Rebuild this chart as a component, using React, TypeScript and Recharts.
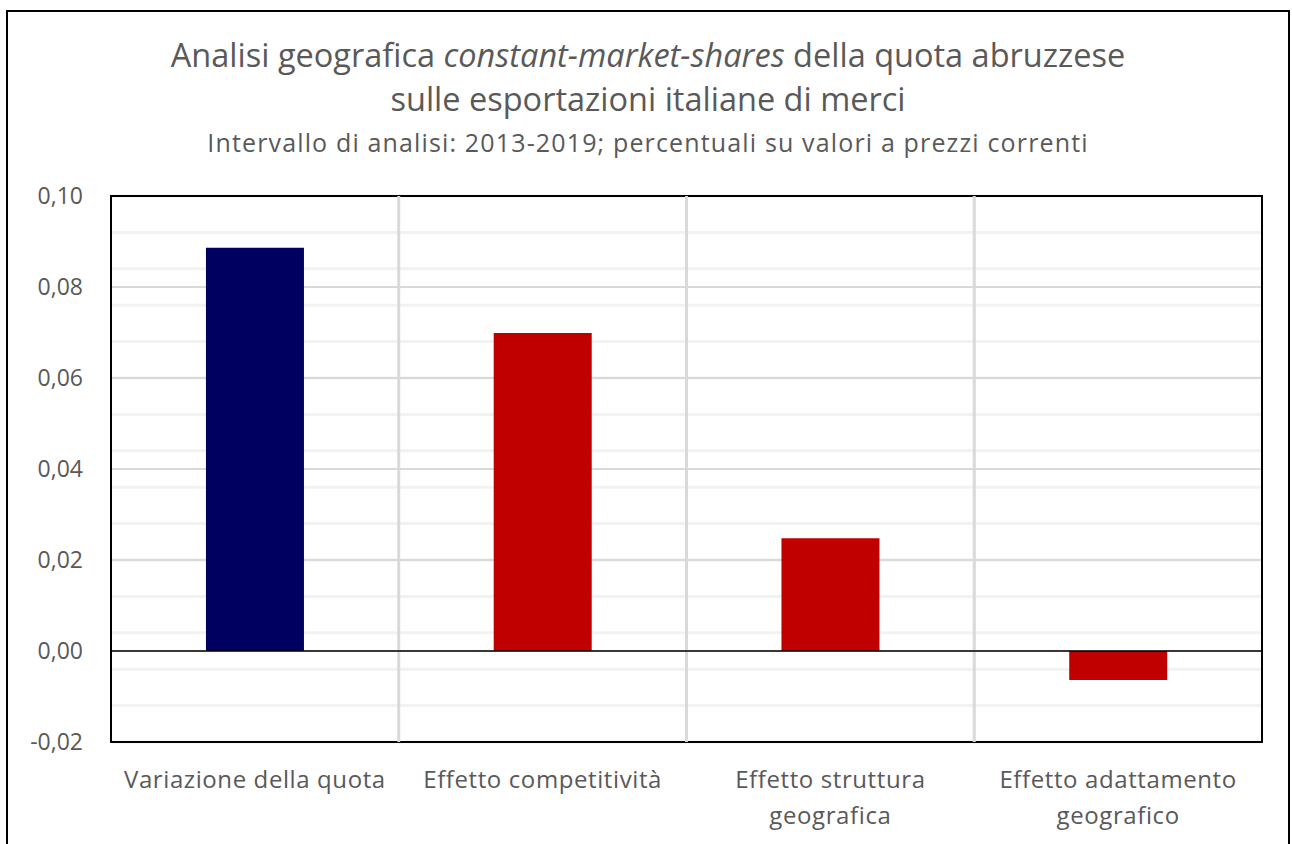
import React from 'react';
import {
  BarChart,
  Bar,
  Cell,
  XAxis,
  YAxis,
  CartesianGrid,
  ReferenceLine,
  ReferenceArea,
} from 'recharts';

// Categories and values
const categories = [
  'Variazione della quota',
  'Effetto competitività',
  'Effetto struttura geografica',
  'Effetto adattamento geografico',
];
const values = [0.0886, 0.0699, 0.0248, -0.0064];
const barColors = ['#000060', '#C00000', '#C00000', '#C00000'];

const yTicks = [-0.02, 0, 0.02, 0.04, 0.06, 0.08, 0.1];
const minorTicks = Array.from({ length: 31 }, (_, i) => -0.02 + i * 0.004);

const data = categories.map((name, i) => ({ name, value: values[i] }));

const FONT = '"Open Sans", "Noto Sans", sans-serif';
const TEXT = '#595959';

function CategoryTick(props: any) {
  const { x, y, payload } = props;
  const label: string = payload.value;
  let lines = [label];
  if (label.length > 24) {
    const cut = label.lastIndexOf(' ');
    lines = [label.slice(0, cut), label.slice(cut + 1)];
  }
  return (
    <text
      x={x}
      y={y}
      textAnchor="middle"
      fill={TEXT}
      fontSize={24}
      letterSpacing={0.6}
      fontFamily={FONT}
    >
      {lines.map((l, i) => (
        <tspan key={i} x={x} dy={i === 0 ? 38 : 36}>
          {l}
        </tspan>
      ))}
    </text>
  );
}

export default function App() {
  return (
    <div
      style={{
        position: 'absolute',
        left: 0,
        top: 0,
        width: 1292,
        height: 844,
        background: '#fff',
        overflow: 'hidden',
        fontFamily: FONT,
      }}
    >
      <div
        style={{
          position: 'absolute',
          left: 6,
          top: 10,
          width: 1280,
          height: 850,
          border: '2px solid #000',
        }}
      />
      <svg
        width={1292}
        height={180}
        style={{ position: 'absolute', left: 0, top: 0 }}
        fontFamily={FONT}
      >
        <text x={648} y={67} textAnchor="middle" fontSize={32.5} fill={TEXT}>
          Analisi geografica <tspan fontStyle="italic">constant-market-shares</tspan> della
          quota abruzzese
        </text>
        <text x={648} y={111} textAnchor="middle" fontSize={32.5} fill={TEXT}>
          sulle esportazioni italiane di merci
        </text>
        <text
          x={648}
          y={152}
          textAnchor="middle"
          fontSize={25}
          letterSpacing={1.15}
          fill={TEXT}
        >
          Intervallo di analisi: 2013-2019; percentuali su valori a prezzi correnti
        </text>
      </svg>
      <div style={{ position: 'absolute', left: 0, top: 0 }}>
        <BarChart
          width={1292}
          height={844}
          data={data}
          margin={{ top: 196, right: 30, bottom: 0, left: 0 }}
          barCategoryGap="33%"
        >
          <CartesianGrid
            vertical={false}
            horizontalValues={minorTicks}
            stroke="#f2f2f2"
            strokeWidth={3}
          />
          <CartesianGrid
            vertical={false}
            horizontalValues={yTicks}
            stroke="#d9d9d9"
            strokeWidth={2}
          />
          <XAxis
            dataKey="name"
            height={102}
            axisLine={false}
            tickLine={false}
            interval={0}
            tick={<CategoryTick />}
          />
          <YAxis
            type="number"
            domain={[-0.02, 0.1]}
            ticks={yTicks}
            width={111}
            axisLine={false}
            tickLine={false}
            tickMargin={22}
            tick={{ fontSize: 23, fill: TEXT, fontFamily: FONT }}
            tickFormatter={(v: number) => v.toFixed(2).replace('.', ',')}
            allowDataOverflow
          />
          {categories.slice(1).map((c) => (
            <ReferenceLine
              key={c}
              x={c}
              position="start"
              stroke="#d9d9d9"
              strokeWidth={3}
            />
          ))}
          <Bar dataKey="value" isAnimationActive={false}>
            {data.map((d, i) => (
              <Cell key={d.name} fill={barColors[i]} />
            ))}
          </Bar>
          <ReferenceLine y={0} stroke="#000" strokeWidth={1.5} />
          <ReferenceArea
            y1={-0.02}
            y2={0.1}
            fill="none"
            fillOpacity={0}
            stroke="#000"
            strokeWidth={2}
            ifOverflow="visible"
          />
        </BarChart>
      </div>
    </div>
  );
}
